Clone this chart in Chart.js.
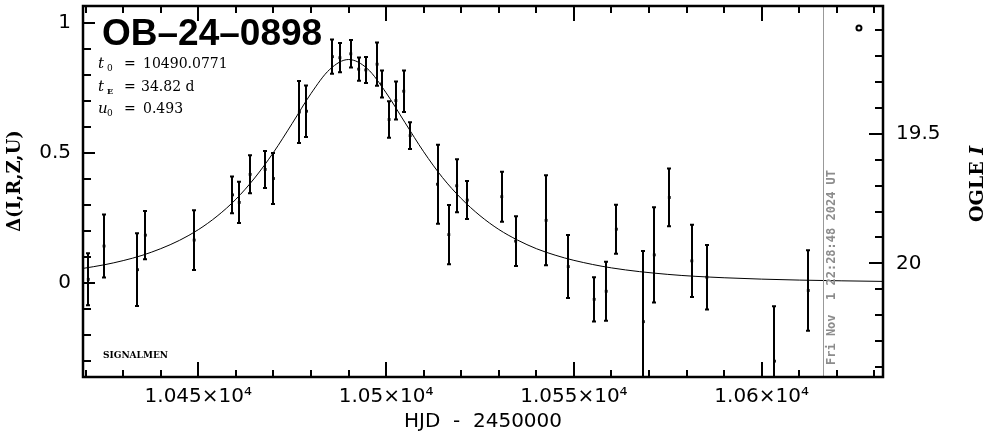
<!DOCTYPE html>
<html>
<head>
<meta charset="utf-8">
<script src="https://cdn.jsdelivr.net/npm/chart.js@4.4.1/dist/chart.umd.min.js"></script>
<style>
  html, body { margin: 0; padding: 0; background: #fff; }
  canvas { display: block; }
</style>
</head>
<body>
<canvas id="lcChart" width="986" height="434"></canvas>
<script>
// photometry: HJD - 2450000, delta mag and its error bar
const obsHjd = [10420.7, 10424.9, 10433.8, 10435.9, 10448.9, 10459.1, 10460.9, 10463.8, 10467.8, 10470.0,
                10476.9, 10478.8, 10485.7, 10487.7, 10490.6, 10492.7, 10494.6, 10497.6, 10498.8, 10500.8,
                10502.6, 10504.7, 10506.4, 10513.7, 10516.7, 10518.8, 10521.6, 10530.8, 10534.5, 10542.6,
                10548.5, 10555.4, 10558.6, 10561.3, 10568.5, 10571.4, 10575.4, 10581.4, 10585.4, 10603.4,
                10612.4];
const obsDelta = [0.014, 0.142, 0.051, 0.184, 0.165, 0.339, 0.310, 0.418, 0.437, 0.402,
                  0.658, 0.661, 0.871, 0.867, 0.882, 0.823, 0.820, 0.842, 0.766, 0.629,
                  0.702, 0.738, 0.567, 0.380, 0.186, 0.374, 0.319, 0.332, 0.161, 0.241,
                  0.063, -0.063, -0.032, 0.207, -0.149, 0.108, 0.329, 0.085, 0.022, -0.301,
                  -0.029];
const obsErr = [0.104, 0.125, 0.144, 0.097, 0.119, 0.075, 0.083, 0.077, 0.075, 0.102,
                0.123, 0.103, 0.070, 0.060, 0.057, 0.049, 0.054, 0.087, 0.056, 0.074,
                0.077, 0.084, 0.055, 0.156, 0.118, 0.106, 0.077, 0.100, 0.100, 0.177,
                0.125, 0.089, 0.117, 0.098, 0.276, 0.187, 0.115, 0.143, 0.128, 0.215,
                0.159];

// model curve
const modelHjd = [10419.3, 10425, 10430, 10435, 10440, 10445, 10450, 10455, 10460, 10465, 10470, 10475,
                  10480, 10485, 10490, 10495, 10500, 10505, 10510, 10515, 10520, 10525, 10530, 10535,
                  10540, 10545, 10550, 10560, 10575, 10590, 10610, 10632.3];
const modelDelta = [0.056, 0.070, 0.086, 0.106, 0.132, 0.164, 0.205, 0.257, 0.322, 0.404, 0.502, 0.614,
                    0.729, 0.822, 0.860, 0.825, 0.732, 0.618, 0.505, 0.406, 0.325, 0.259, 0.206, 0.165,
                    0.132, 0.107, 0.087, 0.058, 0.033, 0.020, 0.011, 0.006];

// axes
const xRange = [10419.3, 10632.3];
const yRange = [-0.362, 1.066];
const magZero = 20.075;            // OGLE I at delta = 0
const xMajorTicks = [10450, 10500, 10550, 10600];
const yMajorTicks = [0, 0.5, 1];
const magMajorTicks = [19.5, 20];

// extras
const stampHjd = 10616.4;
const stampText = 'Fri Nov  1 22:28:48 2024 UT';
const markHjd = 10625.9, markDelta = 0.981;
const eventName = 'OB\u201324\u20130898';

function sciLabel(v) {
  return parseFloat((v / 1e4).toFixed(4)) + '\u00d710\u2074';
}
const plainLabel = v => String(parseFloat(Number(v).toFixed(2)));

const noPad = s => { s.paddingTop = 0; s.paddingBottom = 0; s.paddingLeft = 0; s.paddingRight = 0; };

// error bars under the points
const errorBars = {
  id: 'errorBars',
  beforeDatasetsDraw(chart) {
    const {ctx, chartArea: a, scales: {x, y}} = chart;
    ctx.save();
    ctx.beginPath();
    ctx.rect(a.left, a.top, a.right - a.left, a.bottom - a.top);
    ctx.clip();
    ctx.strokeStyle = '#000';
    ctx.lineWidth = 2;
    obsHjd.forEach((t, i) => {
      const px = Math.round(x.getPixelForValue(t));
      const top = y.getPixelForValue(obsDelta[i] + obsErr[i]);
      const bot = y.getPixelForValue(obsDelta[i] - obsErr[i]);
      ctx.beginPath();
      ctx.moveTo(px, top); ctx.lineTo(px, bot);
      ctx.moveTo(px - 2, top + 1); ctx.lineTo(px + 2, top + 1);
      ctx.moveTo(px - 2, bot - 1); ctx.lineTo(px + 2, bot - 1);
      ctx.stroke();
    });
    ctx.restore();
  }
};

// frame, inward ticks, labels
const decor = {
  id: 'decor',
  afterDraw(chart) {
    const {ctx, chartArea: a, scales: {x, y, mag}} = chart;
    ctx.save();

    // timestamp line
    const sx = Math.round(x.getPixelForValue(stampHjd)) + 0.5;
    ctx.strokeStyle = '#999';
    ctx.lineWidth = 1;
    ctx.beginPath(); ctx.moveTo(sx, a.top); ctx.lineTo(sx, a.bottom); ctx.stroke();
    ctx.save();
    ctx.translate(sx + 11, a.bottom - 12);
    ctx.rotate(-Math.PI / 2);
    ctx.fillStyle = '#8c8c8c';
    ctx.font = 'bold 12px "DejaVu Sans Mono"';
    ctx.textBaseline = 'alphabetic';
    ctx.fillText(stampText, 0, 0);
    ctx.restore();

    // frame
    ctx.strokeStyle = '#000';
    ctx.lineWidth = 2.5;
    ctx.strokeRect(a.left, a.top, a.right - a.left, a.bottom - a.top);

    // ticks
    ctx.lineWidth = 2;
    ctx.beginPath();
    for (let t = Math.ceil(xRange[0] / 10) * 10; t <= xRange[1]; t += 10) {
      const px = Math.round(x.getPixelForValue(t));
      const len = t % 50 === 0 ? 15 : 7;
      ctx.moveTo(px, a.bottom); ctx.lineTo(px, a.bottom - len);
      ctx.moveTo(px, a.top); ctx.lineTo(px, a.top + len);
    }
    for (let k = Math.ceil(yRange[0] * 10); k <= Math.floor(yRange[1] * 10); k++) {
      const py = Math.round(y.getPixelForValue(k / 10));
      const len = k % 5 === 0 ? 12 : 8;
      ctx.moveTo(a.left, py); ctx.lineTo(a.left + len, py);
    }
    for (let k = Math.ceil(mag.min * 10); k <= Math.floor(mag.max * 10); k++) {
      const py = Math.round(mag.getPixelForValue(k / 10));
      const len = k % 5 === 0 ? 14 : 8;
      ctx.moveTo(a.right, py); ctx.lineTo(a.right - len, py);
    }
    ctx.stroke();

    // event name and parameters
    ctx.fillStyle = '#000';
    ctx.textBaseline = 'alphabetic';
    ctx.textAlign = 'left';
    ctx.font = 'bold 37px "Liberation Sans"';
    ctx.fillText(eventName, 102, 45);

    const serif = '"DejaVu Serif"';
    const rows = [
      {sym: 't', sub: '0', subFont: '9px ' + serif, val: '10490.0771', valX: 143, base: 68},
      {sym: 't', sub: 'E', subFont: 'bold 8px ' + serif, val: '34.82 d', valX: 141, base: 91},
      {sym: 'u', sub: '0', subFont: '9px ' + serif, val: '0.493', valX: 143, base: 113}
    ];
    rows.forEach(r => {
      ctx.font = 'italic 15px ' + serif;
      ctx.fillText(r.sym, 98, r.base);
      ctx.font = r.subFont;
      ctx.fillText(r.sub, 107, r.base + 3);
      ctx.font = '14px ' + serif;
      ctx.fillText('=', 124, r.base);
      ctx.fillText(r.val, r.valX, r.base);
    });

    ctx.font = 'bold 9px ' + serif;
    ctx.fillText('SIGNALMEN', 103, 358);

    // left axis title, reading upward
    ctx.save();
    ctx.translate(20, 181);
    ctx.rotate(-Math.PI / 2);
    ctx.textAlign = 'center';
    ctx.font = 'bold 18px ' + serif;
    ctx.fillText('\u0394(I,R,Z,U)', 0, 0);
    ctx.restore();

    // right axis title, reading upward
    ctx.save();
    ctx.translate(983, 222);
    ctx.rotate(-Math.PI / 2);
    ctx.font = 'bold 19px ' + serif;
    ctx.fillText('OGLE ', 0, 0);
    const w = ctx.measureText('OGLE ').width;
    ctx.font = 'italic bold 19px ' + serif;
    ctx.fillText('I', w, 0);
    ctx.restore();

    ctx.restore();
  }
};

const ctx = document.getElementById('lcChart').getContext('2d');
const lcChart = new Chart(ctx, {
  type: 'scatter',
  data: {
    datasets: [
      {
        label: 'mark',
        data: [{x: markHjd, y: markDelta}],
        pointStyle: 'circle',
        pointRadius: 2.5,
        borderWidth: 2,
        borderColor: '#000',
        backgroundColor: '#fff'
      },
      {
        label: 'data',
        data: obsHjd.map((t, i) => ({x: t, y: obsDelta[i]})),
        pointStyle: 'rect',
        pointRadius: 2,
        borderWidth: 0,
        backgroundColor: '#000'
      },
      {
        label: 'model',
        type: 'line',
        data: modelHjd.map((t, i) => ({x: t, y: modelDelta[i]})),
        borderColor: '#000',
        borderWidth: 1,
        pointRadius: 0,
        fill: false,
        cubicInterpolationMode: 'monotone'
      }
    ]
  },
  options: {
    responsive: false,
    animation: false,
    devicePixelRatio: 1,
    layout: { padding: { top: 1, left: 0, right: 0, bottom: 0 } },
    plugins: {
      legend: { display: false },
      tooltip: { enabled: false }
    },
    scales: {
      x: {
        type: 'linear',
        position: 'bottom',
        min: xRange[0],
        max: xRange[1],
        bounds: 'data',
        afterBuildTicks: s => { s.ticks = xMajorTicks.map(v => ({value: v})); },
        afterFit: s => { s.height = 57; noPad(s); },
        grid: { display: false, drawTicks: false },
        border: { display: false },
        ticks: {
          autoSkip: false, maxRotation: 0, padding: 8, color: '#000',
          font: { family: 'DejaVu Sans', size: 20 },
          callback: v => sciLabel(v)
        },
        title: {
          display: true, text: 'HJD  -  2450000', color: '#000',
          font: { family: 'DejaVu Sans', size: 20 },
          padding: { top: 0, bottom: 0 }
        }
      },
      y: {
        type: 'linear',
        position: 'left',
        min: yRange[0],
        max: yRange[1],
        bounds: 'data',
        afterBuildTicks: s => { s.ticks = yMajorTicks.map(v => ({value: v})); },
        afterFit: s => { s.width = 83; noPad(s); },
        grid: { display: false, drawTicks: false },
        border: { display: false },
        ticks: {
          autoSkip: false, padding: 12, color: '#000',
          font: { family: 'DejaVu Sans', size: 20 },
          callback: plainLabel
        }
      },
      mag: {
        type: 'linear',
        position: 'right',
        reverse: true,
        min: magZero - yRange[1],
        max: magZero - yRange[0],
        bounds: 'data',
        afterBuildTicks: s => { s.ticks = magMajorTicks.map(v => ({value: v})); },
        afterFit: s => { s.width = 103; noPad(s); },
        grid: { display: false, drawTicks: false },
        border: { display: false },
        ticks: {
          autoSkip: false, padding: 13, color: '#000',
          font: { family: 'DejaVu Sans', size: 20 },
          callback: plainLabel
        }
      }
    }
  },
  plugins: [errorBars, decor]
});
</script>
</body>
</html>
